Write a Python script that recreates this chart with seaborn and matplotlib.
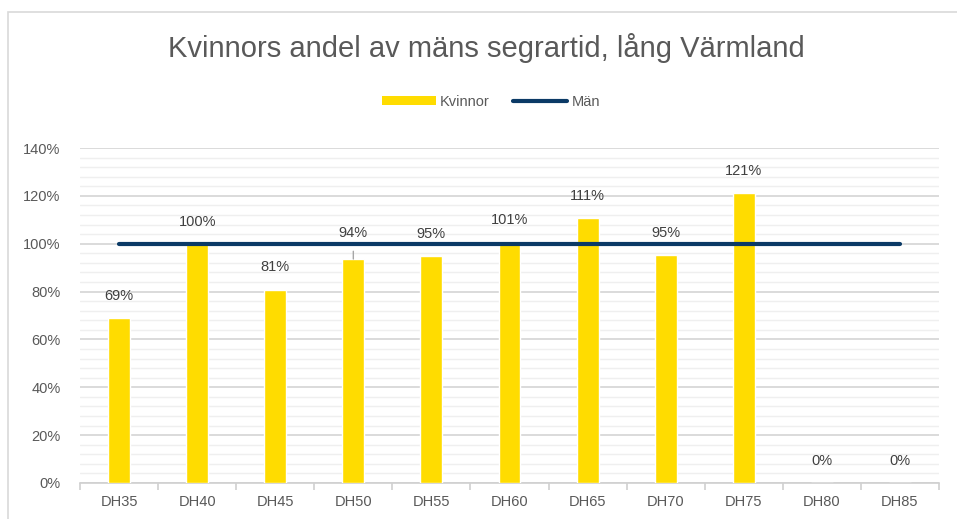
import numpy as np
import pandas as pd
import seaborn as sns
import matplotlib.pyplot as plt
from matplotlib.patches import Patch, Rectangle
from matplotlib.lines import Line2D
from matplotlib.ticker import MultipleLocator, PercentFormatter

# data
categories = ["DH35", "DH40", "DH45", "DH50", "DH55", "DH60", "DH65", "DH70", "DH75", "DH80", "DH85"]
kvinnor = [0.688, 0.998, 0.808, 0.936, 0.948, 1.006, 1.107, 0.953, 1.212, 0.0, 0.0]
man = [1.0] * len(categories)

yellow = "#FFDC00"
navy = "#0B3A66"
text_grey = "#595959"

sns.set_theme(style="white")
plt.rcParams["font.family"] = ["Liberation Sans", "DejaVu Sans"]

fig = plt.figure(figsize=(9.57, 5.19), dpi=100)
ax = fig.add_axes([80 / 957, 36 / 519, 859 / 957, 335 / 519])

df = pd.DataFrame({"kategori": categories, "andel": kvinnor})
sns.barplot(data=df, x="kategori", y="andel", color=yellow, saturation=1, width=0.28, ax=ax, zorder=3)
ax.plot(np.arange(len(categories)), man, color=navy, lw=3, solid_capstyle="round", zorder=4)

ax.set_ylim(0, 1.4)
ax.set_xlim(-0.5, len(categories) - 0.5)
ax.yaxis.set_major_locator(MultipleLocator(0.2))
ax.yaxis.set_minor_locator(MultipleLocator(0.04))
ax.yaxis.set_major_formatter(PercentFormatter(1.0, decimals=0))
ax.grid(axis="y", which="major", color="#D4D4D4", lw=1.2, zorder=0)
ax.grid(axis="y", which="minor", color="#EFEFEF", lw=1, zorder=0)
ax.set_axisbelow(True)
for s in ["top", "right", "left"]:
    ax.spines[s].set_visible(False)
ax.spines["bottom"].set_color("#D0D0D0")
ax.spines["bottom"].set_linewidth(1.2)
ax.set_xlabel("")
ax.set_ylabel("")

# tick marks between the categories
ax.set_xticks(np.arange(len(categories)))
ax.set_xticklabels(categories)
ax.set_xticks(np.arange(-0.5, len(categories)), minor=True)
ax.tick_params(axis="x", which="major", length=0, pad=9, labelsize=10.5, labelcolor=text_grey)
ax.tick_params(axis="x", which="minor", bottom=True, length=5, color="#D0D0D0", width=1.2)
ax.tick_params(axis="y", which="both", length=0, pad=14, labelsize=10.5, labelcolor=text_grey)

for i, v in enumerate(kvinnor):
    label = f"{round(v * 100):.0f}%"
    if categories[i] == "DH50":
        ax.annotate(label, (i, v), xytext=(0, 19), textcoords="offset points",
                    ha="center", va="center", fontsize=10.5, color="#404040",
                    arrowprops=dict(arrowstyle="-", color="#A6A6A6", lw=1, shrinkA=6, shrinkB=0))
    else:
        ax.annotate(label, (i, v), xytext=(0, 16), textcoords="offset points",
                    ha="center", va="center", fontsize=10.5, color="#404040")

fig.text(486 / 957, 1 - 48 / 519, "Kvinnors andel av mäns segrartid, lång Värmland",
         ha="center", va="center", fontsize=21, color=text_grey)

handles = [Patch(facecolor=yellow, edgecolor="none", label="Kvinnor"),
           Line2D([0], [0], color=navy, lw=3, label="Män")]
fig.legend(handles=handles, loc="center", bbox_to_anchor=(491 / 957, 1 - 102 / 519), ncol=2,
           frameon=False, fontsize=10.5, labelcolor=text_grey, handlelength=3.7,
           handleheight=0.6, columnspacing=1.6, handletextpad=0.3)

# light chart border
fig.patches.append(Rectangle((8 / 957, -0.1), 1.2, 1 - 12 / 519 + 0.1, transform=fig.transFigure,
                             fill=False, edgecolor="#D9D9D9", lw=1.2))

fig.savefig("out.png", dpi=100)
